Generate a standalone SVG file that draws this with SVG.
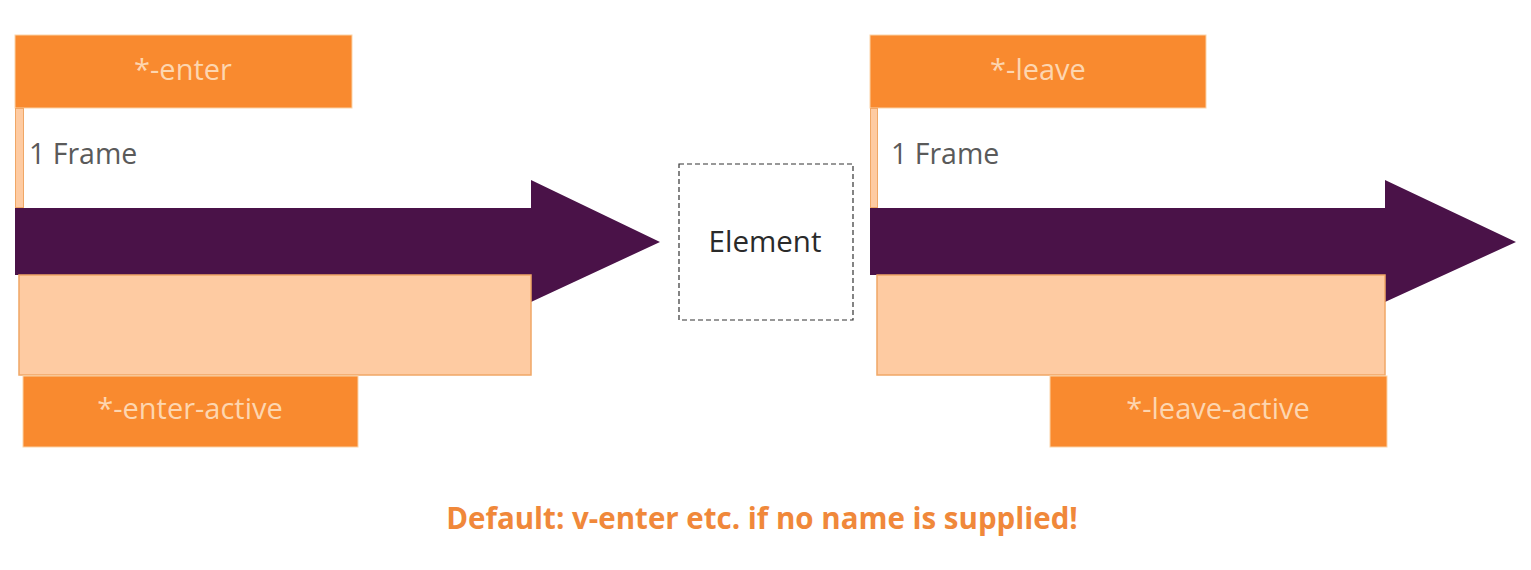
<svg xmlns="http://www.w3.org/2000/svg" width="1531" height="570" viewBox="0 0 1531 570">
<style>
.lbl{fill:#f98a2f;stroke:#fbd3a8;stroke-width:1}
.peach{fill:#fecba2;stroke:#f0a766;stroke-width:1.5}
.strip{fill:#fecba2;stroke:#f0a766;stroke-width:1}
.arrow{fill:#4a1248}
.lt{font-family:"Open Sans","Liberation Sans",sans-serif;font-size:29px;fill:#fdd6b0;text-anchor:middle}
.ft{font-family:"Open Sans","Liberation Sans",sans-serif;font-size:28.5px;fill:#5a5a5a}
.el{font-family:"Open Sans","Liberation Sans",sans-serif;font-size:29.5px;fill:#2a2a2a;text-anchor:middle}
.note{font-family:"Open Sans","Liberation Sans",sans-serif;font-size:29.5px;font-weight:bold;fill:#f0883a;text-anchor:middle}
</style>
<rect width="1531" height="570" fill="#ffffff"/>
<g id="connectors">
<polygon id="arrow-enter" class="arrow" points="15,208 531,208 531,180 660,242 531,302 531,275 15,275"/>
<polygon id="arrow-leave" class="arrow" points="870,208 1385,208 1385,180 1516,242 1385,302 1385,275 870,275"/>
</g>
<g id="enter">
<rect class="lbl" x="15" y="35" width="337" height="73"/>
<text class="lt" x="183" y="80">*-enter</text>
</g>
<g id="enter-frame">
<rect class="strip" x="15.5" y="108.5" width="8" height="99"/>
<text class="ft" x="29" y="164">1 Frame</text>
</g>
<g id="enter-active-span">
<rect class="peach" x="19" y="275" width="512" height="100"/>
</g>
<g id="enter-active">
<rect class="lbl" x="23" y="376" width="335" height="71"/>
<text class="lt" x="190" y="419">*-enter-active</text>
</g>
<g id="element">
<rect x="679" y="164" width="174" height="156" fill="#ffffff" stroke="#333" stroke-width="1.2" stroke-dasharray="5,3"/>
<text class="el" x="765" y="252">Element</text>
</g>
<g id="leave">
<rect class="lbl" x="870" y="35" width="336" height="73"/>
<text class="lt" x="1038" y="80">*-leave</text>
</g>
<g id="leave-frame">
<rect class="strip" x="870.5" y="108.5" width="7" height="99"/>
<text class="ft" x="891" y="164">1 Frame</text>
</g>
<g id="leave-active-span">
<rect class="peach" x="877" y="275" width="508" height="100"/>
</g>
<g id="leave-active">
<rect class="lbl" x="1050" y="376" width="337" height="71"/>
<text class="lt" x="1218" y="419">*-leave-active</text>
</g>
<g id="note">
<text class="note" x="762" y="529">Default: v-enter etc. if no name is supplied!</text>
</g>
</svg>
